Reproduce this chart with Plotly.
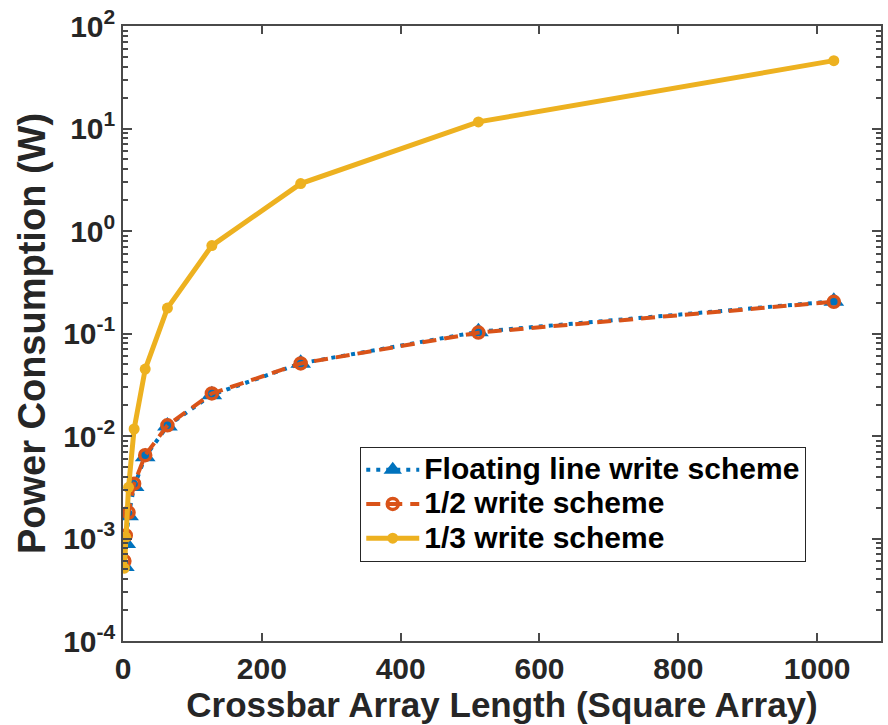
import plotly.graph_objects as go

# Array side length (square crossbar arrays)
array_length = [2, 4, 8, 16, 32, 64, 128, 256, 512, 1024]

# Power consumption (W) for each write scheme
floating_line = [0.000534, 0.000893, 0.00167, 0.00321, 0.00628, 0.0125, 0.0252, 0.0512, 0.104, 0.206]
half_scheme = [0.000602, 0.00107, 0.00179, 0.00343, 0.0065, 0.0127, 0.026, 0.051, 0.102, 0.204]
third_scheme = [0.000514, 0.00103, 0.00316, 0.0117, 0.045, 0.177, 0.72, 2.9, 11.6, 45.9]

series_names = ["Floating line write scheme", "1/2 write scheme", "1/3 write scheme"]

x_tick_vals = [0, 200, 400, 600, 800, 1000]
y_tick_vals = [1e-4, 1e-3, 1e-2, 1e-1, 1e0, 1e1, 1e2]
y_tick_text = ["10<sup>-4</sup>", "10<sup>-3</sup>", "10<sup>-2</sup>", "10<sup>-1</sup>",
               "10<sup>0</sup>", "10<sup>1</sup>", "10<sup>2</sup>"]

BLUE = "#0072BD"
ORANGE = "#D95319"
YELLOW = "#EDB120"
AXIS = "#262626"
TICK = "#4a4a4a"
FONT = "Liberation Sans, Arial, sans-serif"

# log-axis minor ticks at 2..9 x 10^k
minor_vals = [m * 10.0 ** k for k in range(-4, 2) for m in range(2, 10)]


def legend_label(text):
    # larger glyphs than the legend's nominal font keep the rows compact
    return f'<span style="font-size:30px">{text}</span>'


fig = go.Figure()

fig.add_trace(go.Scatter(
    x=array_length, y=floating_line, name=legend_label(series_names[0]),
    mode="lines+markers",
    line=dict(color=BLUE, width=4, dash="4px,6px"),
    marker=dict(symbol="triangle-up", size=18, color=BLUE),
))
fig.add_trace(go.Scatter(
    x=array_length, y=half_scheme, name=legend_label(series_names[1]),
    mode="lines+markers",
    line=dict(color=ORANGE, width=4, dash="14px,8px"),
    marker=dict(symbol="circle-open", size=11, color=ORANGE, line=dict(width=3.5, color=ORANGE)),
))
fig.add_trace(go.Scatter(
    x=array_length, y=third_scheme, name=legend_label(series_names[2]),
    mode="lines+markers",
    line=dict(color=YELLOW, width=5),
    marker=dict(symbol="circle", size=11, color=YELLOW),
))
# empty trace that keeps the minor-tick axis on the page
fig.add_trace(go.Scatter(x=[None], y=[None], yaxis="y2", showlegend=False,
                         hoverinfo="skip", mode="lines"))

fig.update_layout(
    width=888, height=725,
    margin=dict(l=123, r=5, t=24, b=84),
    paper_bgcolor="white", plot_bgcolor="white",
    font=dict(family=FONT, color=AXIS),
    showlegend=True,
    legend=dict(
        x=0.313, y=0.316, xanchor="left", yanchor="top",
        bgcolor="white", bordercolor=AXIS, borderwidth=1,
        font=dict(family=FONT, size=24, color="black", weight="bold"),
        itemwidth=53, tracegroupgap=0,
    ),
    # companion log axis carrying only the unlabelled minor ticks
    yaxis2=dict(
        type="log", range=[-4, 2], overlaying="y", anchor="x", side="left",
        tickmode="array", tickvals=minor_vals, showticklabels=False,
        ticks="inside", ticklen=5, tickcolor=TICK, tickwidth=1.5,
        mirror="ticks", showline=False, showgrid=False, zeroline=False,
    ),
)

fig.update_xaxes(
    range=[0, 1092], tickvals=x_tick_vals,
    ticks="inside", ticklen=8, tickcolor=TICK, tickwidth=1.5,
    showline=True, linecolor=TICK, linewidth=1.5, mirror="ticks",
    showgrid=False, zeroline=False,
    tickfont=dict(family=FONT, size=30, color=AXIS, weight="bold"),
    title=dict(text="<b>Crossbar Array Length (Square Array)</b>",
               font=dict(family=FONT, size=35, color=AXIS), standoff=4),
)

fig.update_layout(yaxis=dict(
    type="log", range=[-4, 2],
    tickvals=y_tick_vals, ticktext=y_tick_text,
    ticks="inside", ticklen=9, tickcolor=TICK, tickwidth=1.5,
    showline=True, linecolor=TICK, linewidth=1.5, mirror="ticks",
    showgrid=False, zeroline=False,
    tickfont=dict(family=FONT, size=30, color=AXIS, weight="bold"),
    title=dict(text="<b>Power Consumption (W)</b>",
               font=dict(family=FONT, size=38, color=AXIS), standoff=6),
))

fig.write_html("out.html")
